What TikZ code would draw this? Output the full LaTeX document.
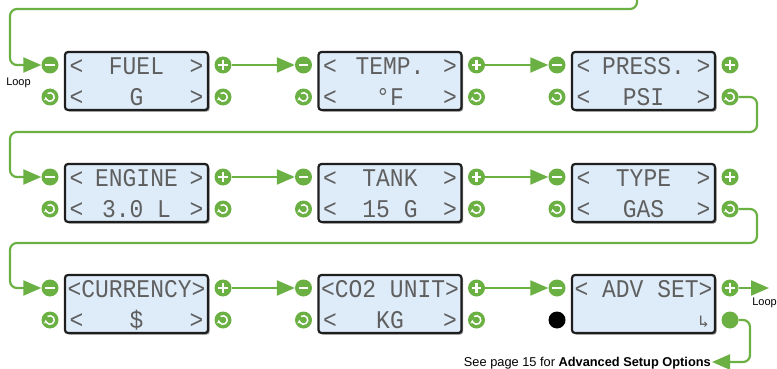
\documentclass[tikz,border=0pt]{standalone}
\usepackage{fontspec}
\setmainfont{Liberation Sans}
\newfontfamily\lcdfont[FakeStretch=0.9]{Liberation Mono}
\newfontfamily\symfont{DejaVu Sans Mono}
\usetikzlibrary{arrows.meta,shadows,calc}
\definecolor{grn}{RGB}{106,176,66}
\definecolor{lcdfill}{RGB}{222,236,249}
\definecolor{lcdborder}{RGB}{30,30,30}
\definecolor{lcdtext}{RGB}{95,95,95}
\tikzset{
  lcd/.style={draw=lcdborder, line width=2.2pt, fill=lcdfill, rounded corners=3pt,
    minimum width=143pt, minimum height=58pt, inner sep=0pt,
    drop shadow={shadow xshift=1.6pt, shadow yshift=-1.6pt, opacity=0.45, fill=black}},
  lcdtxt/.style={font=\lcdfont\fontsize{25.5}{25.5}\selectfont, text=lcdtext, inner sep=0pt,
    text height=17pt, text depth=0pt},
  btn/.style={circle, fill=grn, minimum size=17pt, inner sep=0pt},
  minusbtn/.style={btn, path picture={\draw[white, line width=2.6pt]
      ([xshift=-4.6pt]path picture bounding box.center) -- ([xshift=4.6pt]path picture bounding box.center);}},
  plusbtn/.style={btn, path picture={\draw[white, line width=2.6pt]
      ([xshift=-4.6pt]path picture bounding box.center) -- ([xshift=4.6pt]path picture bounding box.center)
      ([yshift=-4.6pt]path picture bounding box.center) -- ([yshift=4.6pt]path picture bounding box.center);}},
  refbtn/.style={btn, path picture={\draw[white, line width=1.5pt, -{Stealth[length=3pt,width=4.5pt]}]
      ([shift={(125:4.3pt)}]path picture bounding box.center) arc[start angle=125, end angle=-175, radius=4.3pt];}},
  dotbtn/.style={btn},
  blackbtn/.style={circle, fill=black, minimum size=17pt, inner sep=0pt},
  conn/.style={draw=grn, line width=2.2pt, rounded corners=7pt},
  arrowtip/.style={-{Triangle[length=18pt 0 0,width=15pt 0 0]}},
  lbl/.style={font=\fontsize{11}{12}\selectfont, inner sep=0pt},
}
\begin{document}
\begin{tikzpicture}[x=1pt,y=-1pt]
\useasboundingbox (0,0) rectangle (777,369);

% ---------- boxes ----------
\node[lcd] (b1) at (136.5,81) {};
\node[lcd] (b2) at (390,81) {};
\node[lcd] (b3) at (643.5,81) {};
\node[lcd] (b4) at (136.5,193) {};
\node[lcd] (b5) at (390,193) {};
\node[lcd] (b6) at (643.5,193) {};
\node[lcd] (b7) at (136.5,304) {};
\node[lcd] (b8) at (390,304) {};
\node[lcd] (b9) at (643.5,304) {};

% ---------- texts ----------
% row 1
\foreach \cx/\n/\a/\b in {136.5/1/FUEL/G, 390/2/TEMP./°F, 643.5/3/PRESS./PSI}{
  \node[lcdtxt, anchor=west] (t\n la) at (\cx-67,66) {<};
  \node[lcdtxt] (t\n a) at (\cx,66) {\a};
  \node[lcdtxt, anchor=east] (t\n ra) at (\cx+67,66) {>};
  \node[lcdtxt, anchor=west] (t\n lb) at (\cx-67,97) {<};
  \node[lcdtxt] (t\n b) at (\cx,97) {\b};
  \node[lcdtxt, anchor=east] (t\n rb) at (\cx+67,97) {>};
}
% row 2
\foreach \cx/\n/\a/\b in {136.5/4/ENGINE/3.0 L, 390/5/TANK/15 G, 643.5/6/TYPE/GAS}{
  \node[lcdtxt, anchor=west] (t\n la) at (\cx-67,178) {<};
  \node[lcdtxt] (t\n a) at (\cx,178) {\a};
  \node[lcdtxt, anchor=east] (t\n ra) at (\cx+67,178) {>};
  \node[lcdtxt, anchor=west] (t\n lb) at (\cx-67,209) {<};
  \node[lcdtxt] (t\n b) at (\cx,209) {\b};
  \node[lcdtxt, anchor=east] (t\n rb) at (\cx+67,209) {>};
}
% row 3
\node[lcdtxt] (t7a) at (136.5,289) {<CURRENCY>};
\node[lcdtxt, anchor=west] (t7lb) at (69.5,320) {<};
\node[lcdtxt] (t7b) at (136.5,320) {\$};
\node[lcdtxt, anchor=east] (t7rb) at (203.5,320) {>};
\node[lcdtxt] (t8a) at (390,289) {<CO2 UNIT>};
\node[lcdtxt, anchor=west] (t8lb) at (323,320) {<};
\node[lcdtxt] (t8b) at (390,320) {KG};
\node[lcdtxt, anchor=east] (t8rb) at (457,320) {>};
\node[lcdtxt] (t9a) at (643.5,289) {< ADV SET>};
\node[lcdtxt, anchor=east, font=\symfont\fontsize{17}{17}\selectfont] (t9b) at (709,319) {↳};

% ---------- buttons ----------
\foreach \cx/\yt/\n in {136.5/65/1, 390/65/2, 643.5/65/3, 136.5/177/4, 390/177/5, 643.5/177/6, 136.5/288/7, 390/288/8, 643.5/288/9}{
  \node[minusbtn] (m\n) at (\cx-86.5,\yt) {};
  \node[plusbtn] (p\n) at (\cx+86.5,\yt) {};
}
\foreach \cx/\yb/\n in {136.5/97/1, 390/97/2, 643.5/97/3, 136.5/209/4, 390/209/5, 643.5/209/6, 136.5/320/7, 390/320/8}{
  \node[refbtn] (l\n) at (\cx-86.5,\yb) {};
  \node[refbtn] (r\n) at (\cx+86.5,\yb) {};
}
\node[blackbtn] (l9) at (557,320) {};
\node[dotbtn] (r9) at (730,320) {};

% ---------- connectors ----------
\coordinate (topin) at (637,-6);
\coordinate (loopout) at (769,288);
\draw[conn, arrowtip] (topin) -- (637,9) -- (10,9) -- (10,65) -- (m1);
\draw[conn, arrowtip] (p1) -- (m2);
\draw[conn, arrowtip] (p2) -- (m3);
\draw[conn, arrowtip] (r3) -- (757,97) -- (757,132) -- (10,132) -- (10,177) -- (m4);
\draw[conn, arrowtip] (p4) -- (m5);
\draw[conn, arrowtip] (p5) -- (m6);
\draw[conn, arrowtip] (r6) -- (757,209) -- (757,243) -- (10,243) -- (10,288) -- (m7);
\draw[conn, arrowtip] (p7) -- (m8);
\draw[conn, arrowtip] (p8) -- (m9);
\draw[conn, arrowtip] (p9) -- (loopout);

% ---------- labels ----------
\node[lbl] (loopL) at (18.5,83) {Loop};
\node[lbl] (loopR) at (764.5,303) {Loop};
\node[font=\fontsize{12.8}{14}\selectfont, anchor=east, inner sep=1pt] (see) at (712,363)
  {See page 15 for \textbf{Advanced Setup Options}};
\draw[conn, arrowtip] (r9) -- (750,320) -- (750,362) -- (see.east |- 0,362);
\end{tikzpicture}
\end{document}
